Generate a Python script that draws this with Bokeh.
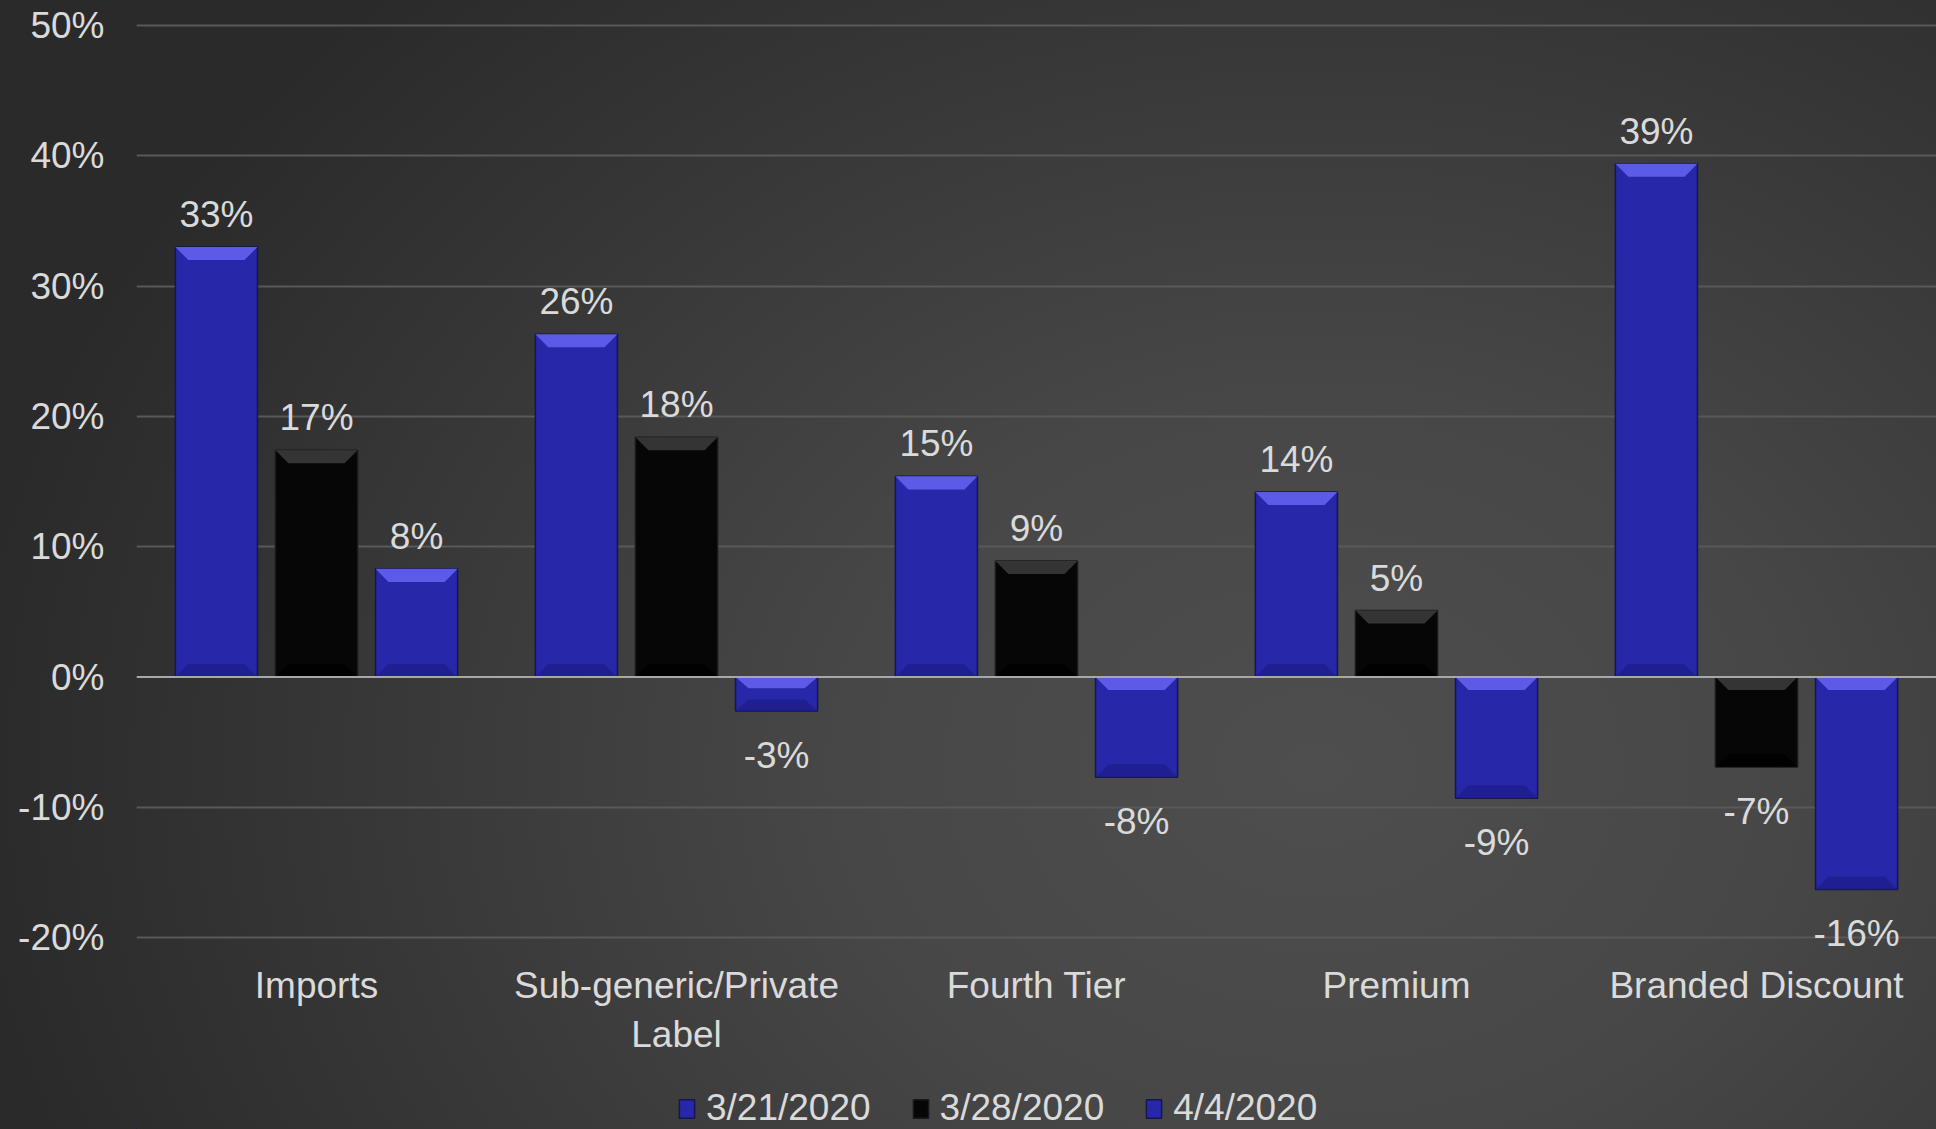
import numpy as np
from bokeh.plotting import figure
from bokeh.layouts import column
from bokeh.models import (ColumnDataSource, FixedTicker, Legend, LegendItem,
                          Range1d, Span)
from bokeh.core.properties import value
from bokeh.embed import file_html
from bokeh.resources import INLINE

# ---------------- data ----------------
categories = ["Imports", "Sub-generic/Private\nLabel", "Fourth Tier", "Premium", "Branded Discount"]
series_names = ["3/21/2020", "3/28/2020", "4/4/2020"]
vals_0321 = [33.0, 26.3, 15.4, 14.2, 39.4]
vals_0328 = [17.4, 18.4, 8.9, 5.1, -6.9]
vals_0404 = [8.3, -2.6, -7.7, -9.3, -16.3]
y_ticks = [-20, -10, 0, 10, 20, 30, 40, 50]

series_values = [vals_0321, vals_0328, vals_0404]

# ---------------- style ----------------
FONT = "Liberation Sans"
TXT = "#dadada"
FS = "37px"
BAR_W = 0.228
OFFSETS = [-0.278, 0.0, 0.278]
FILL = ["#2727aa", "#060606", "#2727aa"]
LIGHT = ["#6262ee", "#3a3a3a", "#6262ee"]
DARK = ["#1c1c86", "#000000", "#1c1c86"]
EDGE = ["#16164a", "#1a1a1a", "#16164a"]
BEV_Y = 1.0
BEV_X = 0.036

W = 1936
MAIN_H = 1058
LEG_H = 1129 - MAIN_H
FRAME_H = 958
TOP_VAL = 51.92
PX_PER_UNIT = 13.03

p = figure(width=W, height=MAIN_H,
           x_range=Range1d(0, len(categories)),
           y_range=Range1d(TOP_VAL - FRAME_H / PX_PER_UNIT, TOP_VAL),
           output_backend="svg", toolbar_location=None,
           min_border_left=136, min_border_right=0,
           min_border_top=0, min_border_bottom=MAIN_H - FRAME_H)

p.background_fill_color = None
p.border_fill_color = None
p.outline_line_color = None

# grid
p.xgrid.visible = False
p.ygrid.ticker = FixedTicker(ticks=[t for t in y_ticks if t != 0])
p.ygrid.grid_line_color = "#595959"
p.ygrid.grid_line_width = 2

# axes
p.yaxis.ticker = FixedTicker(ticks=y_ticks)
p.yaxis.major_label_overrides = {t: f"{t}%" for t in y_ticks}
p.yaxis.axis_line_color = None
p.yaxis.major_tick_line_color = None
p.yaxis.minor_tick_line_color = None
p.yaxis.major_label_text_font = FONT
p.yaxis.major_label_text_font_size = FS
p.yaxis.major_label_text_color = TXT
p.yaxis.major_label_standoff = 26

xt = [i + 0.5 for i in range(len(categories))]
p.xaxis.ticker = FixedTicker(ticks=xt)
p.xaxis.major_label_overrides = {x: c for x, c in zip(xt, categories)}
p.xaxis.axis_line_color = None
p.xaxis.major_tick_line_color = None
p.xaxis.minor_tick_line_color = None
p.xaxis.major_label_text_font = FONT
p.xaxis.major_label_text_font_size = FS
p.xaxis.major_label_text_color = TXT
p.xaxis.major_label_standoff = 0

for s, (name, vals) in enumerate(zip(series_names, series_values)):
    xs = [i + 0.5 + OFFSETS[s] for i in range(len(vals))]
    tops = [max(v, 0) for v in vals]
    bots = [min(v, 0) for v in vals]
    src = ColumnDataSource(dict(x=xs, top=tops, bottom=bots))
    p.vbar(x="x", top="top", bottom="bottom", width=BAR_W, source=src,
           fill_color=FILL[s], line_color=EDGE[s], line_width=1.5)
    hx = BAR_W / 2
    tx, ty, bx, by = [], [], [], []
    for x, t, b in zip(xs, tops, bots):
        d = min(BEV_Y, (t - b) / 3)
        tx.append([x - hx, x + hx, x + hx - BEV_X, x - hx + BEV_X])
        ty.append([t, t, t - d, t - d])
        bx.append([x - hx, x + hx, x + hx - BEV_X, x - hx + BEV_X])
        by.append([b, b, b + d, b + d])
    p.patches(tx, ty, fill_color=LIGHT[s], line_color=None, fill_alpha=0.9)
    p.patches(bx, by, fill_color=DARK[s], line_color=None, fill_alpha=0.7)

    pos = [v >= 0 for v in vals]
    lab_p = ColumnDataSource(dict(x=[x for x, q in zip(xs, pos) if q],
                                  y=[v for v, q in zip(vals, pos) if q],
                                  t=[f"{round(v):d}%" for v, q in zip(vals, pos) if q]))
    lab_n = ColumnDataSource(dict(x=[x for x, q in zip(xs, pos) if not q],
                                  y=[v for v, q in zip(vals, pos) if not q],
                                  t=[f"{round(v):d}%" for v, q in zip(vals, pos) if not q]))
    p.text(x="x", y="y", text="t", y_offset=-12, source=lab_p,
           text_align="center", text_baseline="bottom",
           text_font=value(FONT), text_font_size=value(FS), text_color=TXT)
    p.text(x="x", y="y", text="t", y_offset=24, source=lab_n,
           text_align="center", text_baseline="top",
           text_font=value(FONT), text_font_size=value(FS), text_color=TXT)

p.add_layout(Span(location=0, dimension="width", line_color="#a8a8a8", line_width=2))

# ---------------- legend strip ----------------
lg = figure(width=W, height=LEG_H, x_range=Range1d(0, 1), y_range=Range1d(0, 1),
            output_backend="svg", toolbar_location=None,
            min_border_left=0, min_border_right=0, min_border_top=0, min_border_bottom=0)
lg.axis.visible = False
lg.grid.visible = False
lg.background_fill_color = None
lg.border_fill_color = None
lg.outline_line_color = None
items = []
for s, name in enumerate(series_names):
    # swatch renderer for the legend (lies outside the strip's visible range)
    r = lg.vbar(x=[-5], top=[-5], width=0.1, fill_color=FILL[s], line_color=EDGE[s], line_width=1.5)
    items.append(LegendItem(label=name, renderers=[r]))
legend = Legend(items=items, orientation="horizontal", location=(541, 0),
                background_fill_alpha=0, border_line_color=None,
                label_text_font=FONT, label_text_font_size=FS,
                label_text_color=TXT, glyph_width=19, glyph_height=23,
                spacing=40, label_standoff=10, padding=0, margin=0)
lg.add_layout(legend, "center")

layout = column(p, lg, spacing=0)
layout.styles = {"background": "radial-gradient(ellipse 70% 95% at 68% 68%, #4e4e4e 0%, #474747 35%, #353535 75%, #2a2a2a 100%)",
                 "width": f"{W}px", "height": "1129px"}

open("out.html", "w").write(file_html(layout, INLINE))
